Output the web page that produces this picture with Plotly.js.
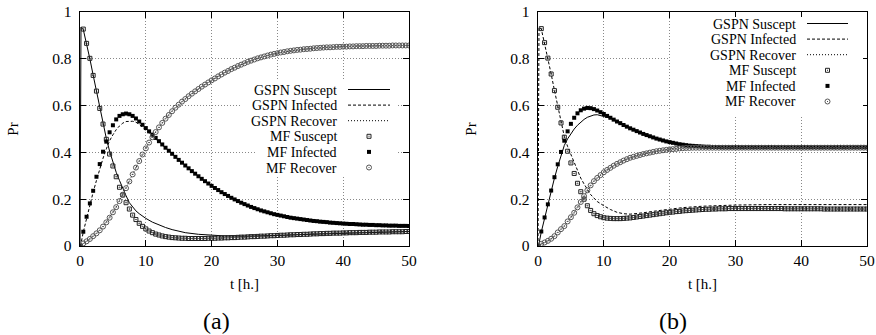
<!DOCTYPE html>
<html>
<head>
<meta charset="utf-8">
<script src="https://cdn.plot.ly/plotly-3.0.1.min.js"></script>
<style>html,body{margin:0;padding:0;background:#fff;}#chart{width:876px;height:335px;}</style>
</head>
<body>
<div id="chart"></div>
<script>
// ---------- time grids ----------
const tMF = [0,0.5,1,1.5,2,2.5,3,3.5,4,4.5,
 5,5.5,6,6.5,7,7.5,8,8.5,9,9.5,
 10,10.5,11,11.5,12,12.5,13,13.5,14,14.5,
 15,15.5,16,16.5,17,17.5,18,18.5,19,19.5,
 20,20.5,21,21.5,22,22.5,23,23.5,24,24.5,
 25,25.5,26,26.5,27,27.5,28,28.5,29,29.5,
 30,30.5,31,31.5,32,32.5,33,33.5,34,34.5,
 35,35.5,36,36.5,37,37.5,38,38.5,39,39.5,
 40,40.5,41,41.5,42,42.5,43,43.5,44,44.5,
 45,45.5,46,46.5,47,47.5,48,48.5,49,49.5,
 50];
const tGSPN = [0,0.15,0.5,1,1.5,2,2.5,3,3.5,4,
 4.5,5,5.5,6,6.5,7,7.5,8,8.5,9,
 10,11,12,13,14,15,16,18,20,22,
 25,28,30,35,40,45,50];

// ---------- panel (a) ----------
const mfSuscA = [0,.927,.866,.802,.729,.662,.588,.521,.456,.393,
 .342,.296,.251,.218,.185,.158,.132,.113,.097,.084,
 .073,.064,.057,.051,.047,.043,.040,.038,.036,.035,
 .034,.033,.033,.032,.032,.032,.032,.032,.032,.033,
 .033,.033,.034,.034,.035,.035,.036,.036,.037,.038,
 .038,.039,.040,.040,.041,.042,.042,.043,.044,.044,
 .045,.046,.046,.047,.048,.048,.049,.049,.050,.050,
 .051,.052,.052,.053,.053,.054,.054,.055,.055,.055,
 .056,.056,.057,.057,.057,.058,.058,.058,.059,.059,
 .059,.060,.060,.060,.060,.061,.061,.061,.061,.062,
 .062];
const mfInfA = [0,.061,.125,.182,.236,.296,.350,.403,.446,.486,
 .516,.541,.556,.563,.566,.563,.556,.545,.532,.518,
 .504,.490,.476,.462,.448,.434,.420,.407,.394,.381,
 .368,.356,.344,.332,.320,.309,.298,.287,.277,.267,
 .257,.248,.239,.230,.222,.214,.206,.199,.192,.185,
 .179,.173,.167,.162,.157,.152,.148,.144,.140,.136,
 .133,.130,.127,.124,.121,.119,.117,.115,.113,.111,
 .109,.107,.106,.104,.103,.102,.100,.099,.098,.097,
 .096,.095,.094,.094,.093,.092,.091,.091,.090,.090,
 .089,.089,.088,.088,.087,.087,.087,.086,.086,.086,
 .085];
const mfRecA = [0,.011,.020,.030,.042,.054,.067,.083,.101,.121,
 .144,.166,.192,.219,.247,.276,.306,.335,.363,.391,
 .417,.442,.465,.487,.507,.526,.544,.560,.576,.591,
 .604,.617,.628,.640,.651,.661,.671,.681,.690,.699,
 .708,.716,.725,.733,.741,.748,.756,.762,.769,.775,
 .781,.787,.792,.797,.802,.806,.810,.814,.818,.821,
 .824,.827,.829,.832,.834,.836,.838,.839,.841,.842,
 .843,.845,.846,.847,.848,.849,.849,.850,.851,.851,
 .852,.852,.853,.853,.854,.854,.854,.855,.855,.855,
 .855,.856,.856,.856,.856,.857,.857,.857,.857,.857,
 .857];
const gSuscA = [0,.935,.925,.866,.80,.73,.66,.59,.525,.46,
 .405,.355,.315,.28,.245,.215,.185,.165,.15,.138,
 .118,.102,.09,.079,.07,.063,.057,.05,.046,.043,
 .042,.043,.045,.05,.055,.059,.062];
const gInfA = [0,.01,.06,.12,.175,.23,.28,.33,.375,.415,
 .45,.475,.497,.513,.525,.532,.534,.533,.529,.52,
 .495,.47,.445,.42,.394,.368,.344,.298,.257,.222,
 .179,.148,.133,.109,.096,.089,.085];
const gRecA = [0,0,.01,.02,.03,.042,.054,.068,.083,.102,
 .121,.145,.167,.193,.22,.248,.277,.307,.336,.364,
 .418,.466,.508,.545,.577,.605,.629,.672,.709,.742,
 .782,.811,.825,.844,.853,.856,.857];

// ---------- panel (b) ----------
const mfSuscB = [0,.929,.869,.803,.735,.664,.593,.526,.465,.405,
 .355,.310,.268,.232,.200,.172,.152,.138,.130,.125,
 .121,.119,.118,.117,.117,.117,.118,.119,.120,.122,
 .124,.126,.128,.130,.132,.134,.136,.138,.140,.142,
 .144,.145,.147,.148,.150,.151,.152,.153,.154,.155,
 .156,.157,.157,.158,.158,.159,.159,.159,.160,.160,
 .160,.160,.160,.160,.160,.160,.160,.160,.160,.160,
 .160,.160,.160,.160,.160,.159,.159,.159,.159,.159,
 .159,.159,.159,.159,.159,.159,.159,.158,.158,.158,
 .158,.158,.158,.158,.158,.158,.158,.158,.158,.158,
 .158];
const mfInfB = [0,.062,.122,.178,.237,.294,.349,.402,.450,.490,
 .522,.548,.567,.580,.587,.590,.589,.585,.579,.572,
 .564,.556,.548,.540,.532,.525,.517,.510,.503,.497,
 .491,.485,.479,.474,.469,.464,.459,.455,.451,.447,
 .444,.441,.438,.435,.433,.431,.429,.428,.427,.426,
 .425,.424,.424,.423,.423,.423,.422,.422,.422,.422,
 .422,.422,.422,.422,.422,.422,.422,.422,.422,.422,
 .422,.422,.422,.422,.422,.422,.422,.422,.422,.422,
 .422,.422,.422,.422,.422,.422,.422,.422,.422,.422,
 .422,.422,.422,.422,.422,.422,.422,.422,.422,.422,
 .422];
const mfRecB = [0,.009,.015,.022,.031,.042,.058,.072,.085,.105,
 .123,.142,.165,.188,.213,.238,.259,.277,.291,.303,
 .315,.325,.334,.343,.351,.358,.365,.371,.377,.381,
 .385,.389,.393,.396,.399,.402,.405,.407,.409,.411,
 .413,.414,.415,.417,.418,.419,.419,.420,.420,.420,
 .420,.420,.420,.420,.420,.420,.420,.420,.420,.420,
 .420,.420,.420,.420,.420,.420,.420,.420,.420,.420,
 .420,.420,.420,.420,.420,.420,.420,.420,.420,.420,
 .420,.420,.420,.420,.420,.420,.420,.420,.420,.420,
 .420,.420,.420,.420,.420,.420,.420,.420,.420,.420,
 .420];
const gSuscB = [0,.935,.928,.868,.80,.735,.665,.595,.53,.468,
 .425,.39,.355,.32,.29,.265,.24,.22,.205,.19,
 .172,.156,.144,.138,.136,.138,.142,.150,.158,.164,
 .170,.174,.175,.177,.177,.177,.177];
const gInfB = [0,.01,.06,.12,.177,.235,.29,.34,.385,.43,
 .458,.48,.50,.516,.53,.541,.55,.556,.56,.561,
 .555,.546,.534,.519,.503,.491,.479,.459,.444,.433,
 .425,.422,.422,.422,.422,.422,.422];
const gRecB = [0,0,.01,.015,.022,.031,.042,.058,.072,.085,
 .105,.123,.142,.165,.188,.213,.238,.259,.277,.291,
 .315,.334,.351,.365,.377,.385,.393,.405,.415,.421,
 .426,.428,.429,.43,.43,.43,.43];

// ---------- text ----------
const legendLabels = ['GSPN Suscept','GSPN Infected','GSPN Recover','MF Suscept','MF Infected','MF Recover'];
const panelCaptions = ['(a)','(b)'];
const xTitle = 't [h.]';
const yTitle = 'Pr';

// ---------- geometry helpers (pixel -> paper) ----------
const L = 80, R = 867, T = 12, B = 246;
const PX = p => (p - L) / (R - L);
const PY = p => (B - p) / (B - T);

const FONT = "'Liberation Serif', 'Times New Roman', serif";
const DASH = '3px,2px', DOT = '1px,2px';

function lineTrace(x, y, dash, xa, ya, name) {
  return {x, y, xaxis: xa, yaxis: ya, type: 'scatter', mode: 'lines', name,
    line: {color: '#000', width: 1, dash}, hoverinfo: 'skip'};
}
function markTrace(x, y, symbol, size, color, lw, xa, ya, name) {
  return {x, y, xaxis: xa, yaxis: ya, type: 'scatter', mode: 'markers', name,
    marker: {symbol, size, color, line: {color, width: lw}}, hoverinfo: 'skip'};
}

const traces = [
  lineTrace(tGSPN, gSuscA, 'solid', 'x', 'y', 'GSPN Suscept'),
  lineTrace(tGSPN, gInfA, DASH, 'x', 'y', 'GSPN Infected'),
  lineTrace(tGSPN, gRecA, DOT, 'x', 'y', 'GSPN Recover'),
  markTrace(tMF, mfSuscA, 'square-open-dot', 4, '#222', 1, 'x', 'y', 'MF Suscept'),
  markTrace(tMF, mfInfA, 'square', 4, '#000', 0, 'x', 'y', 'MF Infected'),
  markTrace(tMF, mfRecA, 'circle-open-dot', 5, '#555', 1, 'x', 'y', 'MF Recover'),

  lineTrace(tGSPN, gSuscB, DASH, 'x2', 'y2', 'GSPN Suscept'),
  lineTrace(tGSPN, gInfB, 'solid', 'x2', 'y2', 'GSPN Infected'),
  lineTrace(tGSPN, gRecB, DOT, 'x2', 'y2', 'GSPN Recover'),
  markTrace(tMF, mfSuscB, 'square-open-dot', 4, '#222', 1, 'x2', 'y2', 'MF Suscept'),
  markTrace(tMF, mfInfB, 'square', 4, '#000', 0, 'x2', 'y2', 'MF Infected'),
  markTrace(tMF, mfRecB, 'circle-open-dot', 5, '#555', 1, 'x2', 'y2', 'MF Recover')
];

function xAxis(domain, anchor) {
  return {domain, anchor, range: [0, 50], dtick: 10, tick0: 0, ticks: 'inside', ticklen: 6,
    tickcolor: '#000', tickwidth: 1, showline: true, linecolor: '#000', linewidth: 1.3,
    mirror: 'ticks', showgrid: true, gridcolor: '#888', gridwidth: 1, griddash: DOT,
    zeroline: false, tickfont: {family: FONT, size: 15.5, color: '#000'},
    title: {text: xTitle, font: {family: FONT, size: 15, color: '#000'}, standoff: 10},
    automargin: false, fixedrange: true};
}
function yAxis(anchor) {
  return {domain: [0, 1], anchor, range: [0, 1], dtick: 0.2, tick0: 0, ticks: 'inside', ticklen: 6,
    tickcolor: '#000', tickwidth: 1, showline: true, linecolor: '#000', linewidth: 1.3,
    mirror: 'ticks', showgrid: true, gridcolor: '#888', gridwidth: 1, griddash: DOT,
    zeroline: false, tickfont: {family: FONT, size: 15.5, color: '#000'}, ticklabelstandoff: 4,
    title: {text: yTitle, font: {family: FONT, size: 15, color: '#000'}, standoff: 30},
    automargin: false, fixedrange: true};
}

// legend (gnuplot style: right-aligned text, sample on the right)
const LEG_FONT = 14;
function legendParts(textRight, sampleX0, sampleX1, top, step, boxes) {
  const rows = legendLabels.map((_, i) => top + i * step);
  const shapes = [], ann = [];
  boxes.forEach(b => shapes.push({type: 'rect', xref: 'paper', yref: 'paper', layer: 'above',
    x0: PX(b[0]), x1: PX(b[1]), y0: PY(b[2]), y1: PY(b[3]), fillcolor: '#fff', line: {width: 0}}));
  const mid = (sampleX0 + sampleX1) / 2;
  legendLabels.forEach((lab, i) => {
    ann.push({text: lab, xref: 'paper', yref: 'paper', x: PX(textRight), y: PY(rows[i]),
      xanchor: 'right', yanchor: 'middle', showarrow: false, borderpad: 0,
      font: {family: FONT, size: LEG_FONT, color: '#000'}});
  });
  const dashes = ['solid', DASH, DOT];
  for (let i = 0; i < 3; i++) {
    shapes.push({type: 'line', xref: 'paper', yref: 'paper', layer: 'above',
      x0: PX(sampleX0), x1: PX(sampleX1), y0: PY(rows[i] - 0.5), y1: PY(rows[i] - 0.5),
      line: {color: '#000', width: 1, dash: dashes[i]}});
  }
  // MF Suscept: open square with dot
  shapes.push({type: 'rect', xref: 'paper', yref: 'paper', layer: 'above',
    x0: PX(mid - 2), x1: PX(mid + 2), y0: PY(rows[3] - 2.5), y1: PY(rows[3] + 1.5),
    fillcolor: 'rgba(0,0,0,0)', line: {color: '#222', width: 1}});
  shapes.push({type: 'rect', xref: 'paper', yref: 'paper', layer: 'above',
    x0: PX(mid - 0.5), x1: PX(mid + 0.5), y0: PY(rows[3] - 1), y1: PY(rows[3]),
    fillcolor: '#222', line: {width: 0}});
  // MF Infected: filled square
  shapes.push({type: 'rect', xref: 'paper', yref: 'paper', layer: 'above',
    x0: PX(mid - 2), x1: PX(mid + 2), y0: PY(rows[4] - 2.5), y1: PY(rows[4] + 1.5),
    fillcolor: '#000', line: {width: 0}});
  // MF Recover: open circle with dot
  shapes.push({type: 'circle', xref: 'paper', yref: 'paper', layer: 'above',
    x0: PX(mid - 2.5), x1: PX(mid + 2.5), y0: PY(rows[5] - 3), y1: PY(rows[5] + 2),
    fillcolor: 'rgba(0,0,0,0)', line: {color: '#555', width: 1}});
  shapes.push({type: 'rect', xref: 'paper', yref: 'paper', layer: 'above',
    x0: PX(mid - 0.5), x1: PX(mid + 0.5), y0: PY(rows[5] - 1), y1: PY(rows[5]),
    fillcolor: '#555', line: {width: 0}});
  return {shapes, ann};
}

const legA = legendParts(338, 348, 390, 90, 15.6,
  [[240, 397, 80, 129], [257, 397, 129, 176]]);
const legB = legendParts(797, 807, 848, 24, 15.6,
  [[670, 863, 17, 115]]);

const captionAnn = [
  {text: panelCaptions[0], xref: 'paper', yref: 'paper', x: PX(216), y: PY(321),
   xanchor: 'center', yanchor: 'middle', showarrow: false, font: {family: FONT, size: 24, color: '#000'}},
  {text: panelCaptions[1], xref: 'paper', yref: 'paper', x: PX(673), y: PY(321),
   xanchor: 'center', yanchor: 'middle', showarrow: false, font: {family: FONT, size: 24, color: '#000'}}
];

const layout = {
  width: 876, height: 335,
  margin: {l: L, r: 876 - R, t: T, b: 335 - B, pad: 0},
  paper_bgcolor: '#fff', plot_bgcolor: '#fff',
  showlegend: false,
  font: {family: FONT, size: 15.5, color: '#000'},
  xaxis: xAxis([0, PX(409)], 'y'),
  yaxis: yAxis('x'),
  xaxis2: xAxis([PX(538), 1], 'y2'),
  yaxis2: yAxis('x2'),
  shapes: legA.shapes.concat(legB.shapes),
  annotations: legA.ann.concat(legB.ann, captionAnn)
};

Plotly.newPlot('chart', traces, layout, {displayModeBar: false, staticPlot: true});
</script>
</body>
</html>
